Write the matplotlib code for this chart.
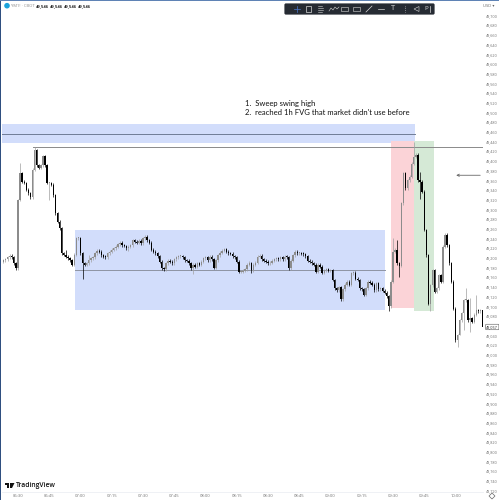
import matplotlib
matplotlib.use('Agg')
import matplotlib.pyplot as plt
from matplotlib.patches import Rectangle, FancyBboxPatch, Circle, Polygon

plt.rcParams['font.family'] = ['Open Sans', 'DejaVu Sans']

W, H = 499, 500

# 1 minute closes, first bar is 06:21
first_minute = -9
closes = [49188,49192,49195,49197,49201,49204,49201,49188,49178,
 49319,49374,49357,49354,49340,49333,49325,49381,49422,49391,
 49385,49391,49409,49391,49354,49354,49350,49329,49292,49274,
 49261,49209,49206,49202,49199,49195,49185,49206,49240,49240,
 49209,49188,49185,49188,49195,49199,49201,49209,49214,49212,
 49205,49202,49201,49209,49212,49216,49219,49223,49228,49231,
 49226,49224,49219,49223,49226,49236,49233,49231,49235,49230,
 49240,49243,49236,49231,49216,49212,49209,49203,49192,49178,
 49176,49188,49194,49192,49188,49197,49201,49203,49203,49201,
 49195,49194,49188,49178,49185,49181,49188,49185,49192,49199,
 49201,49195,49202,49197,49179,49195,49205,49210,49214,49217,
 49212,49209,49208,49203,49201,49192,49171,49171,49173,49176,
 49185,49188,49174,49185,49190,49202,49204,49197,49194,49192,
 49188,49190,49194,49197,49199,49197,49201,49197,49202,49201,
 49178,49194,49205,49212,49209,49209,49208,49207,49203,49194,
 49192,49188,49185,49171,49185,49181,49169,49174,49176,49173,
 49174,49154,49137,49133,49139,49114,49135,49144,49150,49144,
 49168,49169,49157,49154,49137,49135,49123,49137,49150,49148,
 49144,49133,49147,49135,49137,49132,49128,49120,49100,49150,
 49212,49216,49188,49183,49312,49374,49343,49360,49367,49394,
 49408,49412,49360,49357,49336,49257,49205,49105,49143,49174,
 49130,49137,49164,49150,49223,49247,49226,49188,49150,49095,
 49030,49040,49071,49085,49112,49112,49071,49075,49068,49082,
 49092,49089,49092,49057]

# long wicks that stand out, minute: price
high_wicks = {1:49395, 8:49428, 23:49216, 34:49205, 111:49194, 180:49240, 182:49236,
              190:49439, 193:49377, 205:49251, 206:49251, 215:49137, 217:49116, 220:49123}
low_wicks = {15:49319, 31:49157, 53:49214, 84:49166, 112:49168, 130:49175, 178:49090,
             183:49161, 193:49322, 198:49089, 211:49016, 212:49040, 214:49050, 217:49047, 223:49044}

x_ticks = [0,15,30,45,60,75,90,105,120,135,150,165,180,195,210]
x_labels = ['06:30','06:45','07:00','07:15','07:30','07:45','08:00','08:15',
            '08:30','08:45','09:00','09:15','09:30','09:45','10:00']
y_ticks = list(range(48720, 49701, 20))

fig = plt.figure(figsize=(W/100, H/100), dpi=100)
ax = fig.add_axes([2/W, 1-492/H, 481/W, 490/H])
ax.set_xlim(-7.68, 223.2)
ax.set_ylim(48716.6, 49727.4)

# zones
blue = '#d2ddfb'
ax.add_patch(Rectangle((-8, 49437), 198.8, 38, fc=blue, ec='none', zorder=1))
ax.add_patch(Rectangle((27.4, 49092), 148.6, 165, fc=blue, ec='none', zorder=1))
ax.add_patch(Rectangle((179, 49097), 11, 344, fc='#fbd3d7', ec='none', zorder=1))
ax.add_patch(Rectangle((190.3, 49089), 9.4, 352, fc='#d5e9d6', ec='none', zorder=1))

# levels
ax.plot([-8, 190.8], [49456, 49456], color='#6f7d96', lw=0.7, zorder=2)
ax.plot([27.4, 176], [49175, 49175], color='#8d93a3', lw=0.7, zorder=2)
ax.plot([7.3, 223.2], [49428, 49428], color='#8a8a8a', lw=0.7, zorder=2)
ax.annotate('', xy=(209, 49370), xytext=(223.2, 49370),
            arrowprops=dict(arrowstyle='->', color='#666666', lw=0.6, mutation_scale=4))

# candles
for i in range(1, len(closes)):
    t = first_minute + i
    o, c = closes[i-1], closes[i]
    top, bot = max(o, c), min(o, c)
    hi = high_wicks.get(t, top + 3)
    lo = low_wicks.get(t, bot - 3)
    col = '#000000' if c < o else '#8c8c8c'
    ax.plot([t, t], [lo, hi], color=col if c < o else '#a0a0a0', lw=0.5, zorder=3, solid_capstyle='butt')
    ax.add_patch(Rectangle((t-0.32, bot), 0.64, max(top-bot, 2), fc=col, ec='none', zorder=4))

ax.text(109, 49517, '1.  Sweep swing high', fontsize=5.5, va='center', color='#111111', family='Lato')
ax.text(109, 49500, "2.  reached 1h FVG that market didn't use before", fontsize=5.5, va='center', color='#111111', family='Lato')

# axes
for s in ['top', 'left', 'right']:
    ax.spines[s].set_visible(False)
ax.spines['bottom'].set_color('#eceff4')
ax.spines['bottom'].set_linewidth(0.6)
ax.set_xticks(x_ticks)
ax.set_xticklabels(x_labels)
ax.yaxis.tick_right()
ax.set_yticks(y_ticks)
ax.set_yticklabels([f'{v:,}' for v in y_ticks])
ax.tick_params(axis='both', length=0, labelsize=3, labelcolor='#6f6f6f')
ax.tick_params(axis='x', pad=1.2)
ax.tick_params(axis='y', labelsize=2.7, pad=2.2)

ax.text(1.007, (49057-48716.6)/(49727.4-48716.6), '49,057', transform=ax.transAxes, fontsize=2.7,
        va='center', ha='left', color='#222222',
        bbox=dict(boxstyle='round,pad=0.2', fc='white', ec='#555555', lw=0.4))

# chrome in pixel coordinates
ov = fig.add_axes([0, 0, 1, 1], facecolor='none')
ov.set_xlim(0, W)
ov.set_ylim(H, 0)
ov.axis('off')
ov.add_patch(Rectangle((0, 0), 1.2, H, fc='#2f4f80', ec='none'))
ov.add_patch(Rectangle((0, 0), W, 1, fc='#5f83b5', ec='none'))

# header
ov.add_patch(Circle((7, 5.7), 2.8, fc='#1aa3dc', ec='none'))
ov.text(11, 5.8, 'YM1! · CBOT', fontsize=3, color='#8a8a8a', va='center')
for x in [36, 50, 64, 78]:
    ov.text(x, 5.8, '49,546', fontsize=3, color='#222222', va='center', fontweight='bold')
ov.text(489, 6, 'USD ▾', fontsize=3, color='#666666', va='center', ha='center')

# drawing toolbar
ov.add_patch(FancyBboxPatch((285, 4), 149, 10, boxstyle='round,pad=0.6,rounding_size=1.5', fc='#262b33', ec='none'))
ic = '#d8d8d8'
ov.plot([297, 297], [6, 12], color='#4a78d0', lw=0.5)
ov.plot([294, 300], [9, 9], color='#4a78d0', lw=0.5)
ov.add_patch(Rectangle((306.5, 6), 5, 6, fc='none', ec=ic, lw=0.5))
for y in [6, 8, 10, 12]:
    ov.plot([318, 324 - abs(y-9)/2], [y, y], color=ic, lw=0.4)
ov.plot([329, 331, 333, 335, 337, 339], [11, 8, 10, 7, 9, 7], color=ic, lw=0.4)
ov.add_patch(Rectangle((341, 7), 7, 4, fc='none', ec=ic, lw=0.4))
ov.add_patch(Rectangle((353, 7), 7, 4, fc='none', ec=ic, lw=0.4))
ov.plot([366, 372], [12, 6], color=ic, lw=0.5)
ov.plot([378, 384], [9, 9], color=ic, lw=0.5)
ov.text(393, 9, 'T', fontsize=5.5, color=ic, ha='center', va='center')
ov.plot([405, 405], [6, 12], color=ic, lw=0.5, ls=':')
ov.add_patch(Polygon([[414, 9], [419, 6.5], [419, 11.5]], fc='none', ec=ic, lw=0.4))
ov.text(426, 9, 'P', fontsize=4.5, color=ic, ha='center', va='center')
ov.plot([430, 430], [6, 12], color=ic, lw=0.5)

# logo
ov.add_patch(Polygon([[5, 483], [9, 483], [9, 488], [7, 488], [7, 485], [5, 485]], fc='#111111', ec='none'))
ov.add_patch(Polygon([[10, 483], [14.5, 483], [12, 488], [10, 488]], fc='#111111', ec='none'))
ov.text(16, 485.3, 'TradingView', fontsize=4.9, color='#111111', va='center', fontweight='semibold')

# settings gear
ov.add_patch(Polygon([[492, 493], [495, 496], [492, 499], [489, 496]], fc='none', ec='#666666', lw=0.5))

fig.savefig('out.png', dpi=100)
